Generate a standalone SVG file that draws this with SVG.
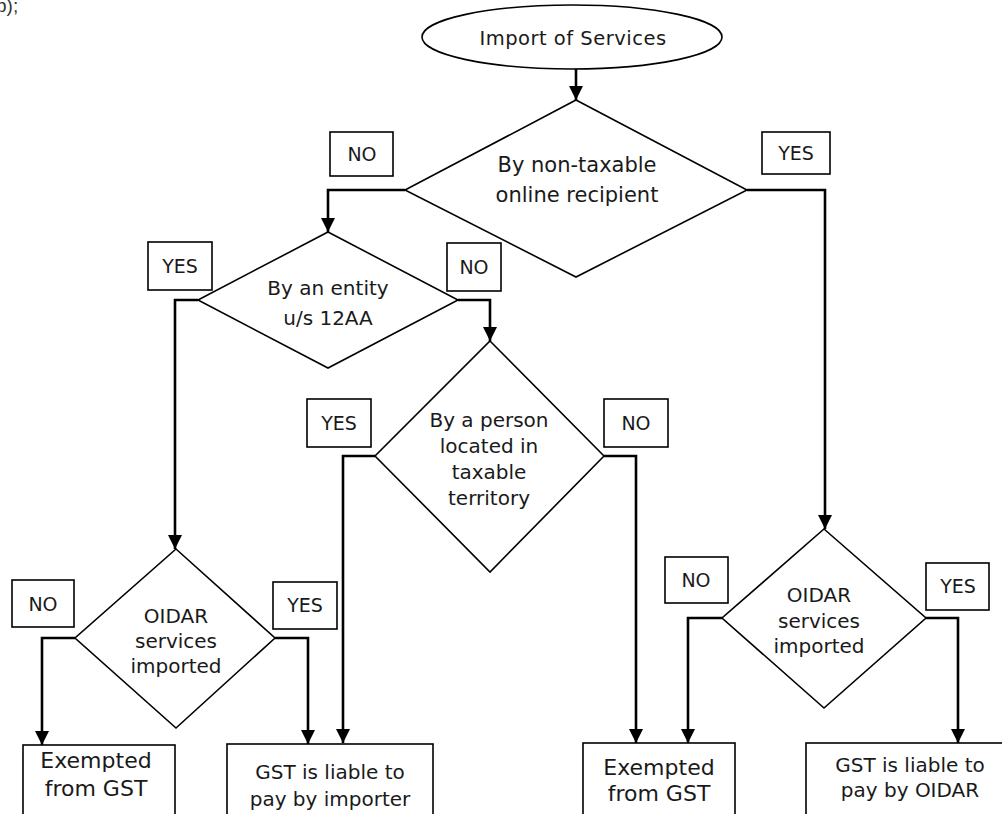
<svg xmlns="http://www.w3.org/2000/svg" width="1002" height="814" viewBox="0 0 1002 814">
<defs>
<marker id="ah" markerUnits="userSpaceOnUse" markerWidth="14" markerHeight="14" viewBox="0 0 14 14" refX="14" refY="7" orient="auto">
<path d="M0,0 L14,7 L0,14 Z" fill="#000"/>
</marker>
<style>
.shape{fill:#fff;stroke:#000;stroke-width:1.6}
.lbl{fill:#fff;stroke:#000;stroke-width:1.6}
.conn{fill:none;stroke:#000;stroke-width:2.6;marker-end:url(#ah)}
text{font-family:"DejaVu Sans","Liberation Sans",sans-serif;font-size:20px;fill:#1a1a1a;text-anchor:middle}
.small{font-size:19px}
.big{font-size:21px}
.ex{font-size:22px}
</style>
</defs>
<rect width="1002" height="814" fill="#fff"/>
<text x="-4" y="12" style="font-family:'Liberation Sans',sans-serif;font-size:19px;text-anchor:start;fill:#333">b);</text>

<g id="connectors">
<path class="conn" d="M576,69 L576,100"/>
<path class="conn" d="M405,190 L328,190 L328,232"/>
<path class="conn" d="M747,190 L825,190 L825,529"/>
<path class="conn" d="M198,300 L175,300 L175,549"/>
<path class="conn" d="M458,300 L490,300 L490,341"/>
<path class="conn" d="M375,456 L343,456 L343,743"/>
<path class="conn" d="M604,456 L636,456 L636,743"/>
<path class="conn" d="M75,638 L42,638 L42,745"/>
<path class="conn" d="M275,638 L308,638 L308,744"/>
<path class="conn" d="M722,618 L688,618 L688,743"/>
<path class="conn" d="M926,618 L958,618 L958,743"/>
</g>

<g id="start">
<ellipse class="shape" cx="572" cy="37" rx="150" ry="32"/>
<text x="573" y="45" style="font-size:19.5px;letter-spacing:0.5px">Import of Services</text>
</g>

<g id="d-nontaxable">
<polygon class="shape" points="576,100 747,190 576,277 405,190"/>
<text class="big" x="577" y="172">By non-taxable</text>
<text class="big" x="577" y="202">online recipient</text>
</g>

<g id="d-entity">
<polygon class="shape" points="328,232 458,300 328,368 198,300"/>
<text x="328" y="295">By an entity</text>
<text x="328" y="325">u/s 12AA</text>
</g>

<g id="d-person">
<polygon class="shape" points="490,341 604,456 490,572 375,456"/>
<text x="489" y="427">By a person</text>
<text x="489" y="453">located in</text>
<text x="489" y="479">taxable</text>
<text x="489" y="505">territory</text>
</g>

<g id="d-oidar-left">
<polygon class="shape" points="176,549 275,638 176,728 75,638"/>
<text x="176" y="623">OIDAR</text>
<text x="176" y="648">services</text>
<text x="176" y="673">imported</text>
</g>

<g id="d-oidar-right">
<polygon class="shape" points="824,529 926,618 824,708 722,618"/>
<text x="819" y="602">OIDAR</text>
<text x="819" y="628">services</text>
<text x="819" y="653">imported</text>
</g>

<g id="b-exempt-left">
<rect class="shape" x="23" y="745" width="152" height="100"/>
<text class="ex" x="96" y="768">Exempted</text>
<text class="ex" x="96" y="796">from GST</text>
</g>

<g id="b-importer">
<rect class="shape" x="227" y="744" width="206" height="100"/>
<text x="330" y="779">GST is liable to</text>
<text x="330" y="806">pay by importer</text>
</g>

<g id="b-exempt-right">
<rect class="shape" x="583" y="743" width="152" height="100"/>
<text class="ex" x="659" y="775">Exempted</text>
<text class="ex" x="659" y="801">from GST</text>
</g>

<g id="b-oidar">
<rect class="shape" x="806" y="743" width="210" height="100"/>
<text x="910" y="772">GST is liable to</text>
<text x="910" y="797">pay by OIDAR</text>
</g>

<g id="labels">
<g id="l-no-1"><rect class="lbl" x="330" y="132" width="63" height="44"/><text class="small" x="362" y="161">NO</text></g>
<g id="l-yes-1"><rect class="lbl" x="762" y="132" width="68" height="42"/><text class="small" x="796" y="160">YES</text></g>
<g id="l-yes-2"><rect class="lbl" x="148" y="242" width="64" height="48"/><text class="small" x="180" y="273">YES</text></g>
<g id="l-no-2"><rect class="lbl" x="447" y="243" width="54" height="48"/><text class="small" x="474" y="274">NO</text></g>
<g id="l-yes-3"><rect class="lbl" x="307" y="399" width="64" height="48"/><text class="small" x="339" y="430">YES</text></g>
<g id="l-no-3"><rect class="lbl" x="604" y="399" width="64" height="48"/><text class="small" x="636" y="430">NO</text></g>
<g id="l-no-4"><rect class="lbl" x="12" y="580" width="62" height="47"/><text class="small" x="43" y="611">NO</text></g>
<g id="l-yes-4"><rect class="lbl" x="273" y="582" width="64" height="47"/><text class="small" x="305" y="612">YES</text></g>
<g id="l-no-5"><rect class="lbl" x="665" y="557" width="63" height="46"/><text class="small" x="696" y="587">NO</text></g>
<g id="l-yes-5"><rect class="lbl" x="926" y="563" width="63" height="47"/><text class="small" x="958" y="593">YES</text></g>
</g>
</svg>
